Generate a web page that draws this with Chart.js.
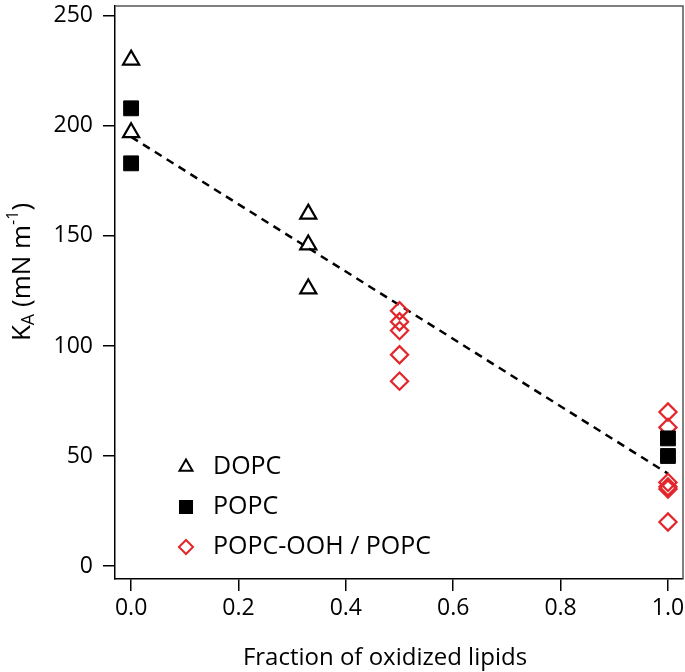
<!DOCTYPE html>
<html><head><meta charset="utf-8">
<script src="https://cdn.jsdelivr.net/npm/chart.js@4.4.0/dist/chart.umd.min.js"></script>
<style>html,body{margin:0;padding:0;background:#fff}#wrap{width:685px;height:672px;position:relative}</style>
</head><body><div id="wrap"><canvas id="c" width="685" height="672"></canvas></div>
<script>
const dopcX = [0, 0, 0.33, 0.33, 0.33];
const dopcY = [230, 197, 160, 146, 126];
const popcX = [0, 0, 1, 1];
const popcY = [208, 183, 58, 50];
const oohX = [0.5, 0.5, 0.5, 0.5, 0.5, 1, 1, 1, 1, 1, 1];
const oohY = [116, 111, 107, 96, 84, 70, 63, 38, 36, 35, 20];
const fitX = [0, 1];
const fitY = [195, 42];
const xTicks = [0, 0.2, 0.4, 0.6, 0.8, 1.0];
const yTicks = [0, 50, 100, 150, 200, 250];
const seriesNames = ['DOPC', 'POPC', 'POPC-OOH / POPC'];
const xTitle = 'Fraction of oxidized lipids';

const FONT = "'Open Sans', 'Noto Sans', sans-serif";
const RED = '#e3262b';
const pts = (xs, ys) => xs.map((x, i) => ({x: x, y: ys[i]}));

const frame = {
  id: 'frame',
  afterDraw(chart) {
    const {ctx, chartArea: a} = chart;
    ctx.save();
    ctx.strokeStyle = '#555';
    ctx.lineWidth = 1.5;
    ctx.beginPath();
    ctx.moveTo(a.left, a.top); ctx.lineTo(a.right, a.top); ctx.lineTo(a.right, a.bottom);
    ctx.stroke();
    // legend
    const ds = chart.data.datasets;
    const lx = 186, ly0 = 467, dy = 40;
    [0, 1, 2].forEach((k, i) => {
      const d = ds[k];
      const y = ly0 + i * dy;
      ctx.save();
      ctx.strokeStyle = d.borderColor;
      ctx.fillStyle = d.backgroundColor;
      ctx.lineWidth = 2;
      Chart.helpers.drawPoint(ctx, {pointStyle: d.pointStyle, radius: d.legendRadius, rotation: 0, borderWidth: 2}, lx, y);
      ctx.restore();
      ctx.fillStyle = '#000';
      ctx.font = '25px ' + FONT;
      ctx.textBaseline = 'middle';
      ctx.textAlign = 'left';
      ctx.fillText(seriesNames[i], 213, y);
    });
    // x title
    ctx.fillStyle = '#000';
    ctx.font = '24px ' + FONT;
    ctx.textAlign = 'center';
    ctx.textBaseline = 'alphabetic';
    ctx.fillText(xTitle, 385, 665);
    // y title
    ctx.save();
    ctx.translate(23, 272);
    ctx.rotate(-Math.PI / 2);
    ctx.fillStyle = '#000';
    ctx.textAlign = 'left';
    ctx.textBaseline = 'middle';
    const parts = [['K', 26, 0], ['A', 18, 6], [' (mN m', 26, 0], ['-1', 16, -10], [')', 26, 0]];
    let w = 0;
    parts.forEach(p => { ctx.font = p[1] + 'px ' + FONT; w += ctx.measureText(p[0]).width; });
    let x = -w / 2;
    parts.forEach(p => {
      ctx.font = p[1] + 'px ' + FONT;
      ctx.fillText(p[0], x, p[2]);
      x += ctx.measureText(p[0]).width;
    });
    ctx.restore();
    ctx.restore();
  }
};

new Chart(document.getElementById('c'), {
  type: 'scatter',
  data: {
    datasets: [
      {label: seriesNames[0], data: pts(dopcX, dopcY), pointStyle: 'triangle', radius: 9.3, legendRadius: 7.5,
       borderColor: '#000', backgroundColor: 'rgba(0,0,0,0)', borderWidth: 2.2, order: 1},
      {label: seriesNames[1], data: pts(popcX, popcY), pointStyle: 'rect', radius: 10.5, legendRadius: 8.5,
       borderColor: '#000', backgroundColor: '#000', borderWidth: 1, order: 2},
      {label: seriesNames[2], data: pts(oohX, oohY), pointStyle: 'rectRot', radius: 8.6, legendRadius: 7,
       borderColor: RED, backgroundColor: 'rgba(0,0,0,0)', borderWidth: 2.2, order: 3},
      {label: 'fit', data: pts(fitX, fitY), showLine: true, pointRadius: 0, borderColor: '#000',
       borderDash: [8, 6], borderWidth: 2.5, order: 4}
    ]
  },
  options: {
    responsive: false,
    animation: false,
    layout: {autoPadding: false, padding: {top: 6, right: 2, left: 0, bottom: 0}},
    plugins: {legend: {display: false}, tooltip: {enabled: false}},
    scales: {
      x: {
        type: 'linear', min: -0.03, max: 1.028,
        afterBuildTicks: s => { s.ticks = xTicks.map(v => ({value: v})); },
        afterFit: s => { s.height = 93; s.paddingLeft = 0; s.paddingRight = 0; },
        border: {display: true, color: '#000', width: 1.5},
        grid: {drawOnChartArea: false, drawTicks: true, tickLength: 12, color: '#000', lineWidth: 1.5},
        ticks: {color: '#000', font: {family: FONT, size: 23}, padding: 4, maxRotation: 0,
          callback: v => v.toFixed(1)}
      },
      y: {
        type: 'linear', min: -5.9, max: 254.5,
        afterBuildTicks: s => { s.ticks = yTicks.map(v => ({value: v})); },
        afterFit: s => { s.width = 115; s.paddingTop = 0; s.paddingBottom = 0; },
        border: {display: true, color: '#000', width: 1.5},
        grid: {drawOnChartArea: false, drawTicks: true, tickLength: 12, color: '#000', lineWidth: 1.5},
        ticks: {color: '#000', font: {family: FONT, size: 23}, padding: 10,
          callback: v => String(v)}
      }
    }
  },
  plugins: [frame]
});
</script></body></html>
